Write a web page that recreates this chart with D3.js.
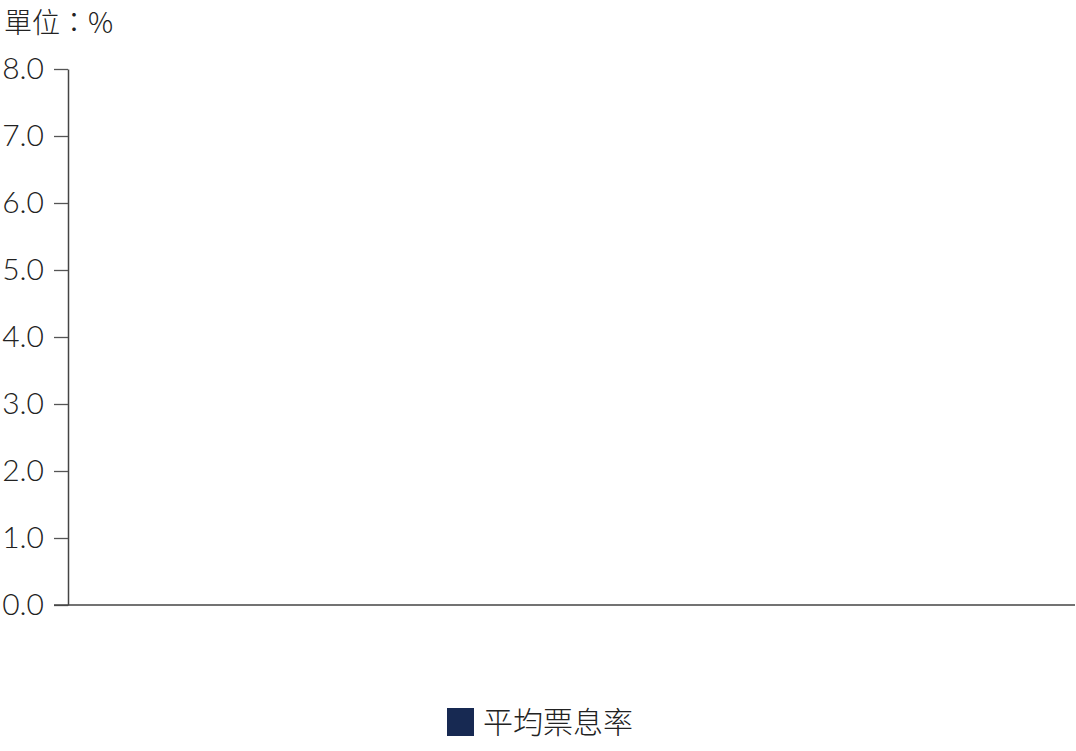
<!DOCTYPE html>
<html>
<head>
<meta charset="utf-8">
<script src="https://cdn.jsdelivr.net/npm/d3@7"></script>
<style>
  body { margin: 0; background: #fff; }
  text { font-family: Lato, "Noto Sans CJK TC", sans-serif; fill: #222; }
</style>
</head>
<body>
<div id="chart"></div>
<script>
// data (the chart shows no bars)
const categories = [];
const couponRates = [];
const yTicks = [0, 1, 2, 3, 4, 5, 6, 7, 8];
const seriesName = '平均票息率';
const unitLabel = '單位：%';

const WIDTH = 1076;
const HEIGHT = 751;
const margin = { top: 69, right: 1, bottom: 146, left: 68 };

const svg = d3.select('#chart')
    .append('svg')
    .attr('width', WIDTH)
    .attr('height', HEIGHT);

const x = d3.scaleBand()
    .domain(categories)
    .range([margin.left, WIDTH - margin.right])
    .padding(0.3);

const y = d3.scaleLinear()
    .domain([0, 8])
    .range([HEIGHT - margin.bottom, margin.top]);

// bars
svg.selectAll('rect.bar')
    .data(couponRates)
    .enter()
    .append('rect')
    .attr('class', 'bar')
    .attr('x', (d, i) => x(categories[i]))
    .attr('y', d => y(d))
    .attr('width', x.bandwidth())
    .attr('height', d => y(0) - y(d))
    .style('fill', '#172952');

// y axis
const yAxis = svg.append('g')
    .attr('transform', `translate(${margin.left},0)`)
    .call(d3.axisLeft(y).tickValues(yTicks).tickFormat(d3.format('.1f')).tickSize(14).tickSizeOuter(0).tickPadding(10));
yAxis.select('.domain').attr('stroke', '#444').attr('stroke-width', 1.5);
yAxis.selectAll('.tick line').attr('stroke', '#555').attr('stroke-width', 1.3);
yAxis.selectAll('.tick text')
    .attr('font-size', 30)
    .attr('font-family', 'Lato, sans-serif')
    .style('font-weight', 300)
    .attr('fill', '#111');

// x axis
svg.append('line')
    .attr('x1', 54)
    .attr('x2', WIDTH - margin.right)
    .attr('y1', y(0))
    .attr('y2', y(0))
    .attr('stroke', '#444')
    .attr('stroke-width', 1.5);

// unit label
svg.append('text')
    .attr('x', 4)
    .attr('y', 33)
    .attr('font-size', 28)
    .style('font-family', '"Noto Sans CJK TC", sans-serif')
    .style('font-weight', 300)
    .text(unitLabel);

// legend
const legend = svg.append('g').attr('transform', 'translate(447,708)');
legend.append('rect')
    .attr('width', 27)
    .attr('height', 28)
    .style('fill', '#172952');
legend.append('text')
    .attr('x', 36)
    .attr('y', 25)
    .attr('font-size', 30)
    .style('font-weight', 300)
    .text(seriesName);
</script>
</body>
</html>
